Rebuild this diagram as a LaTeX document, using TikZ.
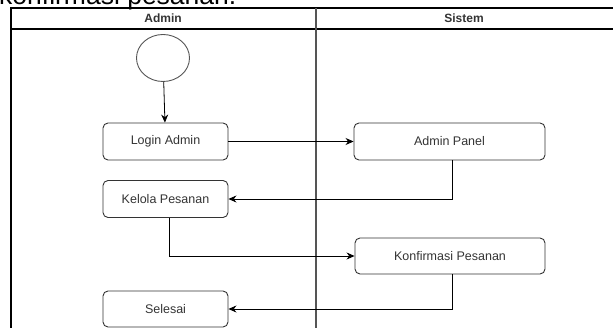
\documentclass[tikz,border=0pt]{standalone}
\usepackage{fontspec}
\setmainfont{Liberation Sans}
\usetikzlibrary{arrows.meta,shapes.geometric}
\definecolor{txt}{HTML}{333333}
\definecolor{bordr}{HTML}{333333}
\definecolor{divgray}{HTML}{555555}
\tikzset{
  activity/.style={draw=bordr, line width=0.9pt, rounded corners=5pt, minimum height=37pt, inner sep=0pt, text=txt, font=\fontsize{12.5}{14}\selectfont},
  startnode/.style={draw=divgray, line width=0.9pt, ellipse, minimum width=53pt, minimum height=47pt, inner sep=0pt},
  flow/.style={draw=black, line width=0.8pt, -{Stealth[length=8pt,width=7pt]}},
  lane/.style={draw=black, line width=1.4pt},
  headtxt/.style={text=txt, font=\bfseries\fontsize{12}{14}\selectfont}
}
\begin{document}
\begin{tikzpicture}[x=1pt,y=-1pt]
\useasboundingbox (0,0) rectangle (613,328);
\clip (0,0) rectangle (613,328);
% cut-off caption at top
\node[anchor=base west, inner sep=0pt, font=\fontsize{26.5}{30}\selectfont] (cap) at (-1,4.5) {konfirmasi pesanan.};
% swimlanes
\draw[lane] (11,340) -- (11,8) -- (613,8);
\draw[lane] (11,29) -- (613,29);
\draw[draw=divgray, line width=1.4pt] (316,8) -- (316,340);
\node[headtxt] (hadmin) at (163,18) {Admin};
\node[headtxt] (hsistem) at (464,18) {Sistem};
% nodes
\node[startnode] (start) at (163,58) {};
\node[activity, minimum width=125pt] (login) at (165.5,141.5) {Login Admin};
\node[activity, minimum width=125pt] (kelola) at (165.5,199) {Kelola Pesanan};
\node[activity, minimum width=125pt, minimum height=36pt] (selesai) at (165.5,309) {Selesai};
\node[activity, minimum width=191pt] (panel) at (449.5,141.5) {Admin Panel};
\node[activity, minimum width=190pt, minimum height=36pt] (konf) at (450,256) {Konfirmasi Pesanan};
% connectors
\draw[flow] (start) -- (login);
\draw[flow] (login) -- (panel);
\draw[flow] ([xshift=2.5pt]panel.south) |- (kelola.east);
\draw[flow] ([xshift=3.5pt]kelola.south) |- (konf.west);
\draw[flow] ([xshift=2pt]konf.south) |- (selesai.east);
\end{tikzpicture}
\end{document}
